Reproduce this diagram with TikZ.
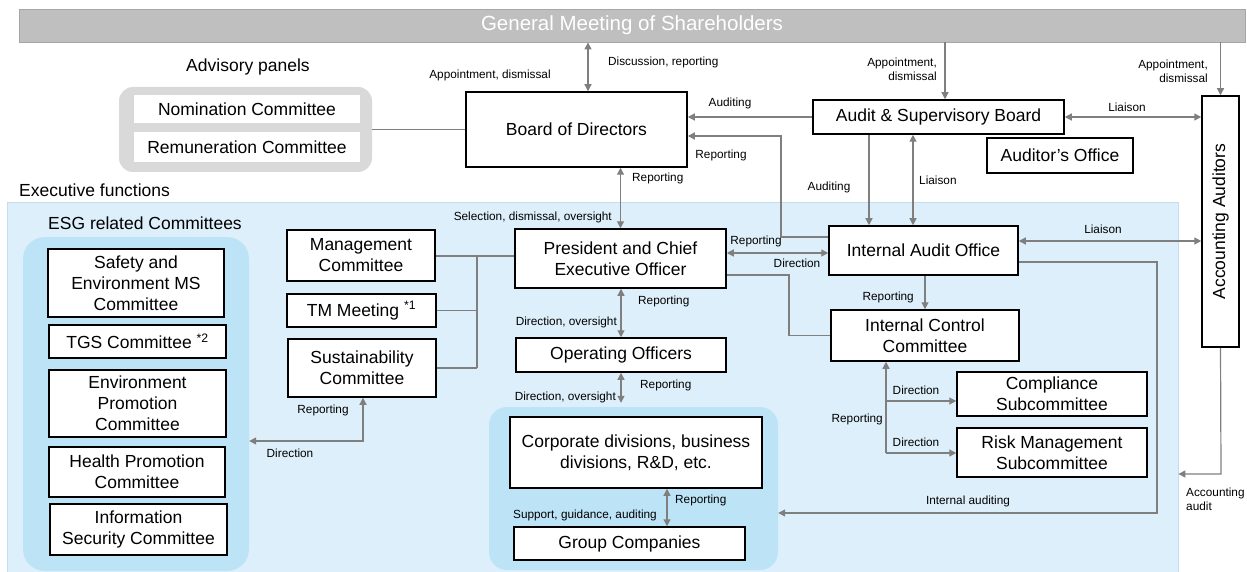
\documentclass[tikz,border=0pt]{standalone}
\usepackage{fontspec}
\setmainfont{Liberation Sans}
\usetikzlibrary{arrows.meta}

\definecolor{linkgray}{HTML}{7F7F7F}
\definecolor{bargray}{HTML}{BFBFBF}
\definecolor{panelgray}{HTML}{D9D9D9}
\definecolor{execblue}{HTML}{DDEFFA}
\definecolor{execline}{HTML}{C3DDEE}
\definecolor{esgblue}{HTML}{BDE3F7}

\newcommand\boxfont{\fontsize{17.5}{21}\selectfont}
\newcommand\lblfont{\fontsize{11.8}{14}\selectfont}
\newcommand\titlefont{\fontsize{20.5}{24}\selectfont}

\begin{document}
\begin{tikzpicture}[x=1pt,y=-1pt,
	box/.style={draw=black,line width=1.5pt,fill=white,align=center,inner sep=0pt,font=\boxfont},
	panelbox/.style={fill=white,align=center,inner sep=0pt,font=\boxfont},
	region/.style={rounded corners=#1,inner sep=0pt},
	region/.default=15pt,
	link/.style={draw=linkgray,line width=1.2pt},
	arr/.style={link,-{Triangle[length=7pt,width=7pt]}},
	dbl/.style={link,{Triangle[length=7pt,width=7pt]}-{Triangle[length=7pt,width=7pt]}},
	lbl/.style={font=\lblfont,inner sep=0pt},
	head/.style={font=\boxfont,inner sep=0pt}]
	\useasboundingbox (0,0) rectangle (1247,572);
	
	% backgrounds
	\node[fill=bargray,draw=black!35,line width=0.8pt,minimum width=1226pt,minimum height=33pt,inner sep=0pt,
		text=white,font=\titlefont] (gm) at (632,25.5) {General Meeting of Shareholders};
	\node[region=14pt,fill=panelgray,minimum width=253pt,minimum height=85pt] (adv) at (245.5,129.5) {};
	\node[fill=execblue,draw=execline,line width=0.8pt,minimum width=1171pt,minimum height=372pt,inner sep=0pt] (exec) at (592.5,388) {};
	\node[region=22pt,fill=esgblue,minimum width=226pt,minimum height=334pt] (esg) at (136,404) {};
	\node[region=18pt,fill=esgblue,minimum width=289pt,minimum height=163pt] (corpgrp) at (633.5,488.5) {};
	
	% headings
	\node[head] (hadv) at (248,67) {Advisory panels};
	\node[head,anchor=west] (hexec) at (19,190) {Executive functions};
	\node[head] (hesg) at (145,223) {ESG related Committees};
	
	% advisory panels
	\node[panelbox,minimum width=226pt,minimum height=28pt] (nom) at (247,109) {Nomination Committee};
	\node[panelbox,minimum width=226pt,minimum height=30pt] (rem) at (247,147) {Remuneration Committee};
	
	% board and auditors
	\node[box,minimum width=221pt,minimum height=75pt] (bod) at (576.5,129.5) {Board of Directors};
	\node[box,minimum width=251pt,minimum height=34pt] (asb) at (938.5,117) {Audit \& Supervisory Board};
	\node[box,minimum width=146pt,minimum height=35pt] (aof) at (1060,155.5) {Auditor’s Office};
	\node[box,minimum width=37pt,minimum height=251pt] (aa) at (1220.5,221.5) {\rotatebox{90}{Accounting Auditors}};
	
	% ESG committees
	\node[box,minimum width=176pt,minimum height=68pt] (safe) at (136,283) {Safety and\\Environment MS\\Committee};
	\node[box,minimum width=177pt,minimum height=33pt] (tgs) at (137.5,341.5) {TGS Committee \textsuperscript{*2}};
	\node[box,minimum width=177pt,minimum height=67pt] (envp) at (137.5,403.5) {Environment\\Promotion\\Committee};
	\node[box,minimum width=176pt,minimum height=50pt] (hlth) at (137,472) {Health Promotion\\Committee};
	\node[box,minimum width=177pt,minimum height=51pt] (isec) at (138.5,529.5) {Information\\Security Committee};
	
	% executive bodies
	\node[box,minimum width=148pt,minimum height=51pt] (mgmt) at (361,255.5) {Management\\Committee};
	\node[box,minimum width=149pt,minimum height=33pt] (tm) at (361.5,310.5) {TM Meeting \textsuperscript{*1}};
	\node[box,minimum width=148pt,minimum height=58pt] (sust) at (362,368) {Sustainability\\Committee};
	\node[box,minimum width=211pt,minimum height=59pt] (pres) at (620.5,258.5) {President and Chief\\Executive Officer};
	\node[box,minimum width=210pt,minimum height=34pt] (oo) at (621,355) {Operating Officers};
	\node[box,minimum width=252pt,minimum height=71pt] (corp) at (636,452.5) {Corporate divisions, business\\divisions, R\&D, etc.};
	\node[box,minimum width=231pt,minimum height=33pt] (grp) at (629.5,543.5) {Group Companies};
	
	% internal audit and control
	\node[box,minimum width=189pt,minimum height=49pt] (iao) at (923.5,250.5) {Internal Audit Office};
	\node[box,minimum width=188pt,minimum height=51pt] (icc) at (925,335.5) {Internal Control\\Committee};
	\node[box,minimum width=190pt,minimum height=44pt] (comp) at (1052,394) {Compliance\\Subcommittee};
	\node[box,minimum width=190pt,minimum height=49pt] (risk) at (1052,452.5) {Risk Management\\Subcommittee};
	
	% helper points
	\coordinate (xgm) at (588,0);
	\coordinate (xasb) at (945,0);
	\coordinate (xaud) at (869,0);
	\coordinate (xlia) at (913,0);
	\coordinate (xcg) at (667,0);
	\coordinate (rb) at (781,136);
	\coordinate (ri) at (781,237);
	\coordinate (yp) at (0,253);
	\coordinate (yl) at (0,241);
	\coordinate (ia1) at (1157,262);
	\coordinate (ia2) at (1157,513);
	\coordinate (aud) at (1221,474);
	\coordinate (bus) at (477,256);
	\coordinate (esgd) at (363,441);
	\coordinate (ic) at (789,275);
	\coordinate (cb1) at (886,401);
	\coordinate (cb2) at (886,453);
	
	% shareholders
	\draw[dbl] (gm.south -| xgm) -- (bod.north -| xgm);
	\draw[arr] (gm.south -| xasb) -- (asb.north -| xasb);
	\draw[arr] (gm.south -| aa.north) -- (aa.north);
	
	% board
	\draw[link] (adv.east) -- (bod.west);
	\draw[arr] (asb.west) -- (bod.east |- asb.west);
	\draw[arr] (iao.west |- ri) -- (ri) -- (rb) -- (bod.east |- rb);
	\draw[dbl] (asb.east) -- (aa.west |- asb.east);
	\draw[arr] (asb.south -| xaud) -- (iao.north -| xaud);
	\draw[dbl] (asb.south -| xlia) -- (iao.north -| xlia);
	\draw[dbl] (bod.south -| pres.north) -- (pres.north);
	
	% internal audit office
	\draw[dbl] (pres.east |- yp) -- (iao.west |- yp);
	\draw[dbl] (iao.east |- yl) -- (aa.west |- yl);
	\draw[arr] (iao.east |- ia1) -- (ia1) -- (ia2) -- (corpgrp.east |- ia2);
	\draw[arr] (aa.south) -- (aud) -- (exec.east |- aud);
	
	% committees under the president
	\draw[link] (mgmt.east |- bus) -- (pres.west |- bus);
	\draw[link] (tm.east) -- (bus |- tm.east);
	\draw[link] (sust.east) -- (bus |- sust.east);
	\draw[link] (bus) -- (bus |- sust.east);
	\draw[dbl] (sust.south -| esgd) -- (esgd) -- (esg.east |- esgd);
	
	% officers and divisions
	\draw[dbl] (pres.south -| oo.north) -- (oo.north);
	\draw[dbl] (oo.south) -- ([yshift=4pt]corpgrp.north -| oo.south);
	\draw[dbl] (corp.south -| xcg) -- (grp.north -| xcg);
	
	% internal control
	\draw[link] (pres.east |- ic) -- (ic) |- (icc.west);
	\draw[arr] (iao.south -| icc.north) -- (icc.north);
	\draw[arr] (cb2) -- (icc.south -| cb2);
	\draw[arr] (cb1) -- (comp.west |- cb1);
	\draw[arr] (cb2) -- (risk.west |- cb2);
	
	% labels
	\node[lbl] (l1) at (490,75) {Appointment, dismissal};
	\node[lbl,anchor=west] (l2) at (608,62) {Discussion, reporting};
	\node[lbl,anchor=east,align=right] (l3) at (937,69) {Appointment,\\dismissal};
	\node[lbl,anchor=east,align=right] (l4) at (1208,71) {Appointment,\\dismissal};
	\node[lbl] (l5) at (730,103) {Auditing};
	\node[lbl] (l6) at (721,155) {Reporting};
	\node[lbl,anchor=west] (l7) at (632,178) {Reporting};
	\node[lbl,anchor=east] (l8) at (612,217) {Selection, dismissal, oversight};
	\node[lbl] (l9) at (1127,107) {Liaison};
	\node[lbl] (l10) at (829,187) {Auditing};
	\node[lbl,anchor=west] (l11) at (919,180) {Liaison};
	\node[lbl] (l12) at (756,241) {Reporting};
	\node[lbl] (l13) at (797,263) {Direction};
	\node[lbl] (l14) at (1103,229) {Liaison};
	\node[lbl] (l15) at (968,501) {Internal auditing};
	\node[lbl,anchor=west,align=left] (l16) at (1186,499) {Accounting\\audit};
	\node[lbl] (l17) at (323,410) {Reporting};
	\node[lbl] (l18) at (290,453) {Direction};
	\node[lbl,anchor=west] (l19) at (638,301) {Reporting};
	\node[lbl,anchor=east] (l20) at (617,322) {Direction, oversight};
	\node[lbl,anchor=west] (l21) at (640,385) {Reporting};
	\node[lbl,anchor=east] (l22) at (616,397) {Direction, oversight};
	\node[lbl,anchor=west] (l23) at (675,500) {Reporting};
	\node[lbl,anchor=east] (l24) at (657,515) {Support, guidance, auditing};
	\node[lbl,anchor=east] (l25) at (914,297) {Reporting};
	\node[lbl] (l26) at (916,390) {Direction};
	\node[lbl] (l27) at (916,442) {Direction};
	\node[lbl,anchor=east] (l28) at (883,419) {Reporting};
\end{tikzpicture}
\end{document}
